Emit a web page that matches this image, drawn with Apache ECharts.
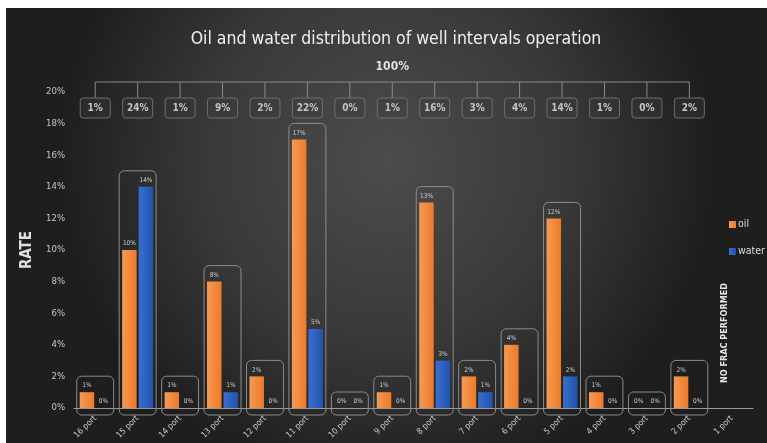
<!DOCTYPE html>
<html>
<head>
<meta charset="utf-8">
<script src="https://cdn.jsdelivr.net/npm/echarts@6/dist/echarts.min.js"></script>
<style>
  html, body { margin: 0; padding: 0; background: #ffffff; }
  #chart { width: 767px; height: 443px; }
</style>
</head>
<body>
<div id="chart"></div>
<script>
// Ports along the well, from the toe (16) to the heel (1)
const categories = ['16 port', '15 port', '14 port', '13 port', '12 port', '11 port', '10 port', '9 port',
  '8 port', '7 port', '6 port', '5 port', '4 port', '3 port', '2 port', '1 port'];
// Oil and water rate share per port (%); port 1 was not fractured
const oilRate = [1, 10, 1, 8, 2, 17, 0, 1, 13, 2, 4, 12, 1, 0, 2, null];
const waterRate = [0, 14, 0, 1, 0, 5, 0, 0, 3, 1, 0, 2, 0, 0, 0, null];
// Share of total production for each fractured port (%)
const intervalShare = [1, 24, 1, 9, 2, 22, 0, 1, 16, 3, 4, 14, 1, 0, 2];
const totalShare = '100%';
// Rate axis range and tick step (%)
const rateMin = 0;
const rateMax = 20;
const rateStep = 2;

const FONT = "'Liberation Sans Narrow', 'DejaVu Sans Condensed', 'Liberation Sans', sans-serif";

const chart = echarts.init(document.getElementById('chart'), null, { renderer: 'canvas' });

// one outline per fractured port, sized to the taller of its two bars
const outlineData = intervalShare.map((_, i) => [i, Math.max(oilRate[i], waterRate[i])]);
const shareData = intervalShare.map((v, i) => [i, 0, v]);

function renderOutline(params, api) {
  const i = api.value(0);
  const top = api.coord([i, api.value(1)]);
  const base = api.coord([i, 0]);
  const band = api.size([1, 0])[0];
  const w = band * 0.87;
  const y0 = top[1] - 16;
  return {
    type: 'rect',
    shape: { x: top[0] - w / 2, y: y0, width: w, height: base[1] + 7 - y0, r: 5 },
    style: { fill: 'none', stroke: '#8c8c8c', lineWidth: 1 }
  };
}

function renderShare(params, api) {
  const i = api.value(0);
  const p = api.coord([i, rateMax]);
  const lineY = p[1] - 10;
  const boxY = p[1] + 6;
  const children = [
    { type: 'line', shape: { x1: p[0], y1: lineY, x2: p[0], y2: boxY },
      style: { stroke: '#8a8a8a', lineWidth: 1 } },
    { type: 'rect', shape: { x: p[0] - 15, y: boxY, width: 30, height: 20, r: 3 },
      style: { fill: 'rgba(60,60,60,0.35)', stroke: '#6e6e6e', lineWidth: 1 } },
    { type: 'text', x: p[0], y: boxY + 10,
      style: { text: api.value(2) + '%', fill: '#c4c4c4', font: 'bold 10px ' + FONT,
        align: 'center', verticalAlign: 'middle' } }
  ];
  if (params.dataIndex === 0) {
    const last = api.coord([intervalShare.length - 1, rateMax]);
    children.push(
      { type: 'line', shape: { x1: p[0], y1: lineY, x2: last[0], y2: lineY },
        style: { stroke: '#8a8a8a', lineWidth: 1 } },
      { type: 'text', x: (p[0] + last[0]) / 2, y: lineY - 15,
        style: { text: totalShare, fill: '#e2e2e2', font: 'bold 12px ' + FONT,
          align: 'center', verticalAlign: 'middle' } }
    );
  }
  return { type: 'group', children: children };
}

const barLabel = {
  show: true,
  position: 'top',
  distance: 3,
  formatter: p => p.value + '%',
  color: '#d0d0d0',
  fontSize: 6.5,
  fontFamily: FONT
};

chart.setOption({
  backgroundColor: '#ffffff',
  animation: false,
  graphic: [
    {
      type: 'rect', z: -10, silent: true,
      shape: { x: 6, y: 8, width: 761, height: 435 },
      style: {
        fill: {
          type: 'radial', x: 0.5, y: 0.35, r: 0.75,
          colorStops: [
            { offset: 0, color: '#4c4c4c' },
            { offset: 0.55, color: '#393939' },
            { offset: 1, color: '#1e1e1e' }
          ]
        }
      }
    },
    {
      type: 'text', left: 720, top: 283,
      rotation: Math.PI / 2, originX: 0, originY: 0,
      style: { text: 'NO FRAC PERFORMED', fill: '#e6e6e6', font: 'bold 9px ' + FONT }
    }
  ],
  title: {
    text: 'Oil and water distribution of well intervals operation',
    left: 391,
    top: 25,
    textAlign: 'center',
    textStyle: { color: '#f0f0f0', fontSize: 17.5, fontWeight: 'normal', fontFamily: FONT }
  },
  legend: {
    orient: 'vertical',
    left: 724,
    top: 214,
    itemWidth: 7,
    itemHeight: 7,
    itemGap: 16,
    icon: 'rect',
    data: ['oil', 'water'],
    textStyle: { color: '#dcdcdc', fontSize: 10.5, fontFamily: FONT, padding: [0, 0, 0, -3] }
  },
  grid: { left: 74, right: 14, top: 92, bottom: 35 },
  xAxis: {
    type: 'category',
    data: categories,
    axisLine: { lineStyle: { color: '#9a9a9a', width: 1 } },
    axisTick: { show: false },
    axisLabel: { rotate: 45, interval: 0, color: '#c8c8c8', fontSize: 8.5, margin: 9, fontFamily: FONT }
  },
  yAxis: {
    type: 'value',
    min: rateMin,
    max: rateMax,
    interval: rateStep,
    name: 'RATE',
    nameLocation: 'middle',
    nameRotate: 90,
    nameGap: 29,
    nameTextStyle: { color: '#e0e0e0', fontSize: 15, fontWeight: 'bold', fontFamily: FONT },
    axisLine: { show: false },
    axisTick: { show: false },
    splitLine: { show: false },
    axisLabel: { formatter: '{value}%', color: '#c4c4c4', fontSize: 9.5, margin: 9, fontFamily: FONT }
  },
  series: [
    {
      name: 'oil',
      type: 'bar',
      data: oilRate,
      barWidth: 14.5,
      barGap: '14%',
      itemStyle: {
        color: {
          type: 'linear', x: 0, y: 0, x2: 1, y2: 0,
          colorStops: [{ offset: 0, color: '#f59a55' }, { offset: 1, color: '#ee7a28' }]
        }
      },
      label: barLabel,
      z: 3
    },
    {
      name: 'water',
      type: 'bar',
      data: waterRate,
      barWidth: 14.5,
      itemStyle: {
        color: {
          type: 'linear', x: 0, y: 0, x2: 1, y2: 0,
          colorStops: [{ offset: 0, color: '#3a6ecf' }, { offset: 1, color: '#2152ad' }]
        }
      },
      label: barLabel,
      z: 3
    },
    {
      type: 'custom',
      renderItem: renderOutline,
      data: outlineData,
      encode: { x: 0, y: 1 },
      silent: true,
      z: 2
    },
    {
      type: 'custom',
      renderItem: renderShare,
      data: shareData,
      encode: { x: 0, y: 1 },
      clip: false,
      silent: true,
      z: 2
    }
  ]
});
</script>
</body>
</html>
